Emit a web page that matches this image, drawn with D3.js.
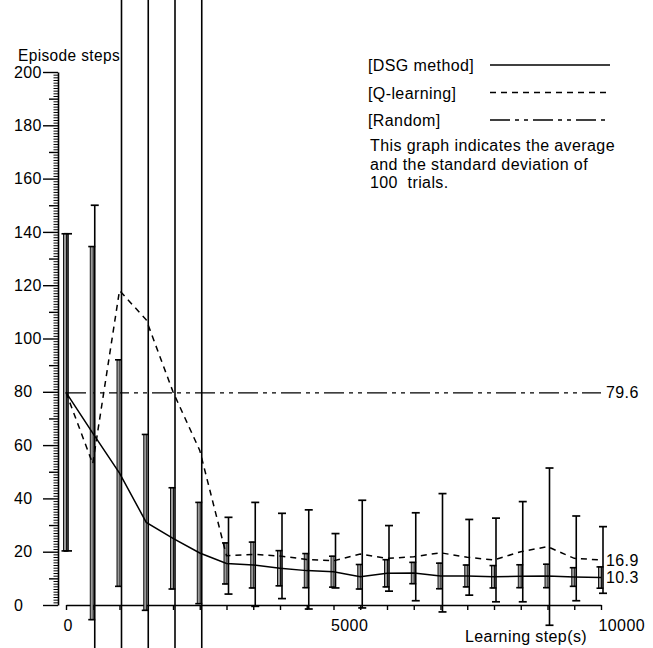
<!DOCTYPE html>
<html>
<head>
<meta charset="utf-8">
<script src="https://cdn.jsdelivr.net/npm/d3@7"></script>
<style>
body { margin: 0; background: #fff; }
text { font-family: "Liberation Sans", Arial, sans-serif; font-size: 16px; fill: #000; letter-spacing: 0.4px; }
</style>
</head>
<body>
<div id="chart"></div>
<script>
// learning steps at which the 100 trials were averaged
var steps = [0, 500, 1000, 1500, 2000, 2500, 3000, 3500, 4000, 4500, 5000,
             5500, 6000, 6500, 7000, 7500, 8000, 8500, 9000, 9500, 10000];

var dsgMean = [79.8, 64.5, 49.5, 31, 25, 19.5, 15.6, 15.0, 13.8, 12.9, 12.5,
               10.6, 11.9, 12.0, 10.9, 10.9, 10.6, 10.8, 10.9, 10.5, 10.3];
var dsgSd   = [59.5, 70, 42.5, 33, 19, 19, 7.7, 8.6, 6.6, 6.4, 5.8,
               4.6, 5.1, 4.0, 4.8, 4.1, 4.2, 4.3, 4.4, 3.5, 4.0];

var qMean = [79.8, 53, 118, 107, 80, 58, 18.5, 19, 18.4, 17.1, 16.6,
             19.1, 17.5, 18.1, 19.6, 17.9, 16.9, 20.0, 21.9, 17.5, 16.9];
var qSd   = [59.5, 97, 150, 150, 160, 180, 14.4, 19.5, 16, 18.6, 10.2,
             20.2, 12.3, 16.5, 22.2, 14.2, 15.7, 18.8, 29.5, 15.9, 12.5];

var randomMean = 79.6;

var xLabels = [0, 5000, 10000];
var yLabels = [0, 20, 40, 60, 80, 100, 120, 140, 160, 180, 200];

var legendNames = ["[DSG method]", "[Q-learning]", "[Random]"];
var legendDash = [null, "6,5", "20,5,4,5,4,5"];
var noteLines = ["This graph indicates the average",
                 "and the standard deviation of",
                 "100  trials."];

var width = 653, height = 648;

var svg = d3.select("#chart")
    .append("svg")
    .attr("width", width)
    .attr("height", height);

svg.append("rect")
    .attr("width", width)
    .attr("height", height)
    .attr("fill", "#fff");

var x = d3.scaleLinear().domain([0, 10000]).range([66, 601]);
var y = d3.scaleLinear().domain([0, 200]).range([605, 72]);

// y axis: a tick for every step, longer at 10 and 20
var yAxis = svg.append("g")
    .attr("transform", "translate(58,0)")
    .call(d3.axisLeft(y)
        .tickValues(d3.range(0, 201, 1))
        .tickSizeOuter(0)
        .tickFormat(function(d){ return yLabels.includes(d) ? d : ""; }));

yAxis.attr("font-family", null).attr("font-size", null);
yAxis.select(".domain").attr("stroke", "#000").attr("stroke-width", 1.6);
yAxis.selectAll(".tick line")
    .attr("stroke", "#000")
    .attr("stroke-width", function(d){ return d % 10 === 0 ? 1.4 : 1; })
    .attr("x2", function(d){
        if (d % 20 === 0) return -15;
        if (d % 10 === 0) return -9;
        return -4.5;
    });
yAxis.selectAll(".tick text")
    .attr("x", -44)
    .attr("text-anchor", "start");

// x axis
var xAxis = svg.append("g")
    .attr("transform", "translate(0,605)")
    .call(d3.axisBottom(x)
        .tickValues(steps)
        .tickSize(5)
        .tickSizeOuter(0)
        .tickFormat(function(d){ return xLabels.includes(d) ? d : ""; }));

xAxis.attr("font-family", null).attr("font-size", null);
xAxis.select(".domain").attr("stroke", "#000").attr("stroke-width", 1.6);
xAxis.selectAll(".tick line").attr("stroke", "#000").attr("stroke-width", 1.4);
xAxis.selectAll(".tick text")
    .attr("x", -3)
    .attr("y", 15)
    .attr("text-anchor", "start");

svg.append("text")
    .attr("x", 18)
    .attr("y", 61)
    .attr("textLength", 102)
    .attr("lengthAdjust", "spacingAndGlyphs")
    .text("Episode steps");

svg.append("text")
    .attr("x", 465)
    .attr("y", 642)
    .text("Learning step(s)");

// random baseline
svg.append("line")
    .attr("x1", x(steps[0]))
    .attr("x2", x(steps[steps.length - 1]))
    .attr("y1", y(randomMean))
    .attr("y2", y(randomMean))
    .attr("stroke", "#000")
    .attr("stroke-width", 1.3)
    .attr("stroke-dasharray", legendDash[2]);

// error bars of Q-learning (thin)
var qBars = svg.append("g");
steps.forEach(function(s, i){
    var cx = x(s) + 2;
    var top = y(qMean[i] + qSd[i]), bot = y(qMean[i] - qSd[i]);
    qBars.append("line").attr("x1", cx).attr("x2", cx).attr("y1", top).attr("y2", bot)
        .attr("stroke", "#000").attr("stroke-width", 1.6);
    qBars.append("line").attr("x1", cx - 4).attr("x2", cx + 4).attr("y1", top).attr("y2", top)
        .attr("stroke", "#000").attr("stroke-width", 1.7);
    qBars.append("line").attr("x1", cx - 4).attr("x2", cx + 4).attr("y1", bot).attr("y2", bot)
        .attr("stroke", "#000").attr("stroke-width", 1.7);
});

// error bars of DSG method (narrow boxes)
var dBars = svg.append("g");
steps.forEach(function(s, i){
    var cx = x(s) - 1;
    var top = y(dsgMean[i] + dsgSd[i]), bot = y(dsgMean[i] - dsgSd[i]);
    dBars.append("rect")
        .attr("x", cx - 1.5).attr("width", 3)
        .attr("y", top).attr("height", bot - top)
        .attr("fill", "#9a9a9a")
        .attr("stroke", "#000")
        .attr("stroke-width", 0.9);
    dBars.append("line").attr("x1", cx - 3.5).attr("x2", cx + 3.5).attr("y1", top).attr("y2", top)
        .attr("stroke", "#000").attr("stroke-width", 1.6);
    dBars.append("line").attr("x1", cx - 3.5).attr("x2", cx + 3.5).attr("y1", bot).attr("y2", bot)
        .attr("stroke", "#000").attr("stroke-width", 1.6);
});

var line = d3.line()
    .x(function(d){ return x(d[0]); })
    .y(function(d){ return y(d[1]); });

svg.append("path")
    .datum(d3.zip(steps, qMean))
    .attr("d", line)
    .attr("fill", "none")
    .attr("stroke", "#000")
    .attr("stroke-width", 1.5)
    .attr("stroke-dasharray", legendDash[1]);

svg.append("path")
    .datum(d3.zip(steps, dsgMean))
    .attr("d", line)
    .attr("fill", "none")
    .attr("stroke", "#000")
    .attr("stroke-width", 1.5);

// end values
var endVals = [randomMean, qMean[qMean.length - 1], dsgMean[dsgMean.length - 1]];
endVals.forEach(function(v){
    svg.append("text")
        .attr("x", 606)
        .attr("y", y(v))
        .attr("dy", "0.35em")
        .text(v.toFixed(1));
});

// legend
legendNames.forEach(function(name, i){
    var base = 71 + i * 27.5;
    svg.append("text").attr("x", 368).attr("y", base).text(name);
    svg.append("line")
        .attr("x1", 490).attr("x2", 610)
        .attr("y1", base - 6).attr("y2", base - 6)
        .attr("stroke", "#000")
        .attr("stroke-width", 1.4)
        .attr("stroke-dasharray", legendDash[i]);
});

noteLines.forEach(function(t, i){
    svg.append("text")
        .attr("x", 370)
        .attr("y", 151 + i * 18.5)
        .style("white-space", "pre")
        .text(t);
});
</script>
</body>
</html>
